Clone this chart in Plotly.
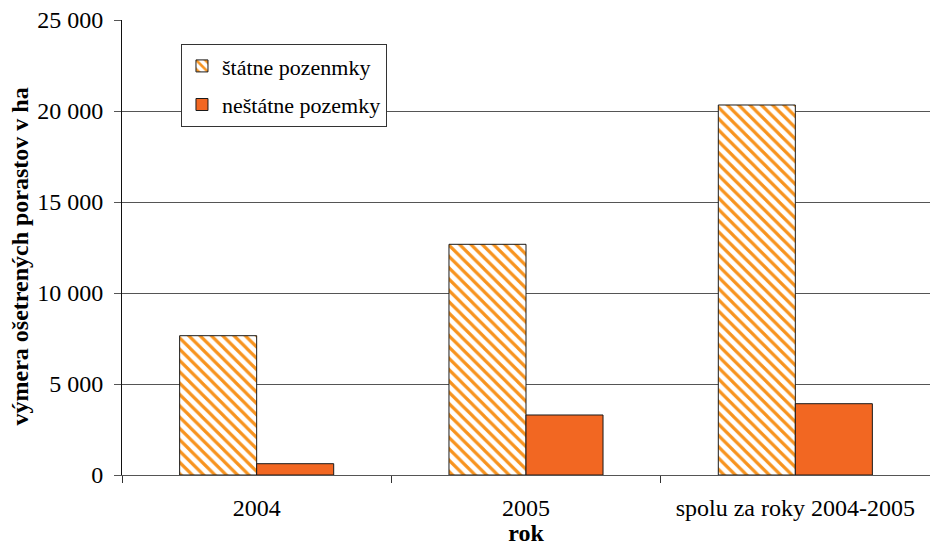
import plotly.graph_objects as go

# Ošetrené porasty podľa vlastníctva pozemkov (ha)
categories = ["2004", "2005", "spolu za roky 2004-2005"]
statne = [7654, 12676, 20330]
nestatne = [621, 3297, 3918]

y_tickvals = [0, 5000, 10000, 15000, 20000, 25000]
y_ticktext = ["0", "5 000", "10 000", "15 000", "20 000", "25 000"]

FONT = "Liberation Serif"
FS = 24

fig = go.Figure()
fig.add_trace(go.Bar(
    x=categories, y=statne, name="štátne pozenmky",
    legendgroup="a",
    marker=dict(
        color="white",
        line=dict(color="#1a1a1a", width=1),
        pattern=dict(shape="\\", fgcolor="#F7931E", bgcolor="white",
                     size=8, solidity=0.4, fillmode="replace"),
    ),
))
fig.add_trace(go.Bar(
    x=categories, y=nestatne, name="neštátne pozemky",
    legendgroup="b",
    marker=dict(color="#F26722", line=dict(color="#1a1a1a", width=1)),
))

fig.update_layout(
    width=930, height=546,
    margin=dict(l=122, r=0, t=20, b=71),
    paper_bgcolor="white", plot_bgcolor="white",
    font=dict(family=FONT, size=FS, color="black"),
    barmode="group", bargap=0.428, bargroupgap=0,
    showlegend=True,
    legend=dict(
        x=0.073, y=0.947, xanchor="left", yanchor="top",
        bgcolor="white", bordercolor="#333333", borderwidth=1,
        font=dict(family=FONT, size=22),
        traceorder="grouped", tracegroupgap=7,
        itemwidth=30,
    ),
    xaxis=dict(
        type="category",
        showline=True, linecolor="#555555", linewidth=1,
        ticks="outside", tickson="boundaries", ticklen=7,
        tickcolor="#333333",
        showgrid=False,
        tickfont=dict(family=FONT, size=FS),
        ticklabelstandoff=11,
        automargin=False,
        title=dict(text="<b>rok</b>", font=dict(family=FONT, size=FS), standoff=8),
    ),
    yaxis=dict(
        range=[0, 25000],
        tickvals=y_tickvals, ticktext=y_ticktext,
        showline=True, linecolor="#111111", linewidth=1,
        ticks="outside", ticklen=7, tickcolor="#555555",
        showgrid=True, gridcolor="#555555", gridwidth=1,
        zeroline=False,
        tickfont=dict(family=FONT, size=FS),
        ticklabelstandoff=6,
    ),
    annotations=[dict(
        text="<b>výmera ošetrených porastov v ha</b>",
        xref="paper", yref="paper", x=0, y=0.5,
        xanchor="center", yanchor="middle",
        xshift=-103, yshift=-9, textangle=-90, showarrow=False,
        font=dict(family=FONT, size=FS, color="black"),
    )],
)

fig.write_html("out.html")
